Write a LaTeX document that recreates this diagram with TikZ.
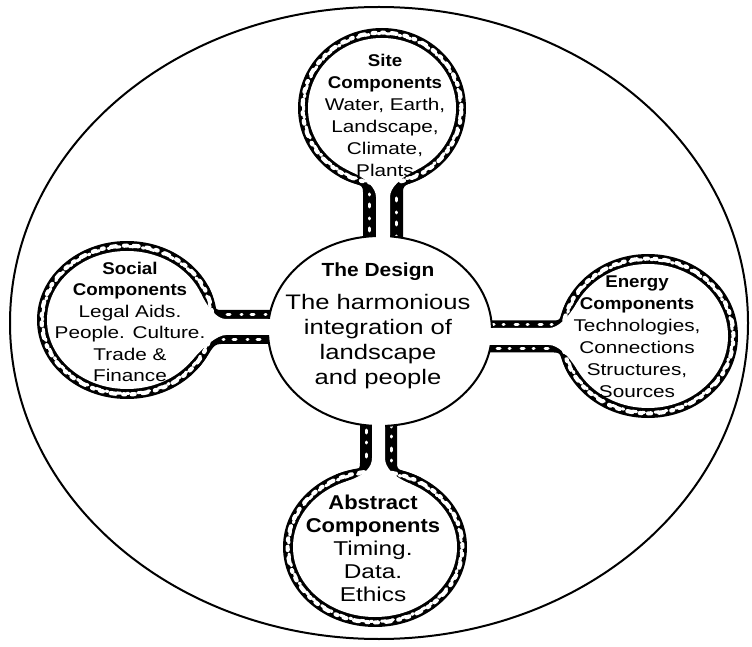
\documentclass[tikz,border=0pt]{standalone}
\usepackage{fontspec}
\newfontfamily\bodyf[FakeStretch=1.22]{Liberation Sans}
\newfontfamily\headf[FakeStretch=1.1]{Liberation Sans}
\newcommand\hd[1]{{\headf\bfseries #1}}
\usetikzlibrary{shapes.geometric}
\tikzset{
 pebble/.style={white, line width=4.2pt, dash pattern=on 3pt off 8pt on 5pt off 7.5pt on 2pt off 6.5pt, line cap=round},
 pebbletwo/.style={white, line width=3pt, dash pattern=on 2pt off 9pt on 4pt off 6pt, dash phase=4pt, line cap=round},
 speck/.style={white, line width=3pt, dash pattern=on 1pt off 9pt on 3pt off 11pt, line cap=round},
 txt/.style={align=center, inner sep=0pt, font=\bodyf\fontsize{17}{22}\selectfont},
 rim/.style={line width=2pt},
}
% #1 cx, #2 cy, #3 rotation, #4 a (across stem), #5 b (along stem), #6 L, #7 w, #8 c, #9 s
\newcommand\Bub[9]{%
\begin{scope}[shift={(#1,#2)},rotate=#3]
 \pgfmathsetmacro\Bpxl{#9-#7-24}
 \pgfmathsetmacro\Bpyl{-#5*sqrt(1-(\Bpxl/#4)^2)}
 \pgfmathsetmacro\Bpxr{#9+#7+24}
 \pgfmathsetmacro\Bpyr{-#5*sqrt(1-(\Bpxr/#4)^2)}
 \pgfmathsetmacro\Btlx{\Bpxl-0.25*#4*\Bpyl/#5}
 \pgfmathsetmacro\Btly{\Bpyl+0.25*#5*\Bpxl/#4}
 \pgfmathsetmacro\Btrx{\Bpxr+0.25*#4*\Bpyr/#5}
 \pgfmathsetmacro\Btry{\Bpyr-0.25*#5*\Bpxr/#4}
 \pgfmathsetmacro\Bma{#4-4.6}\pgfmathsetmacro\Bmb{#5-4.6}
 \pgfmathsetmacro\Bna{#4-5.6}\pgfmathsetmacro\Bnb{#5-5.6}
 \pgfmathsetmacro\Bia{#4-10}\pgfmathsetmacro\Bib{#5-10}
 \pgfmathsetmacro\Bqxl{#9-#8-26}
 \pgfmathsetmacro\Bqyl{-\Bib*sqrt(1-(\Bqxl/\Bia)^2)}
 \pgfmathsetmacro\Bqxr{#9+#8+26}
 \pgfmathsetmacro\Bqyr{-\Bib*sqrt(1-(\Bqxr/\Bia)^2)}
 \pgfmathsetmacro\Bulx{\Bqxl-0.25*\Bia*\Bqyl/\Bib}
 \pgfmathsetmacro\Buly{\Bqyl+0.25*\Bib*\Bqxl/\Bia}
 \pgfmathsetmacro\Burx{\Bqxr+0.25*\Bia*\Bqyr/\Bib}
 \pgfmathsetmacro\Bury{\Bqyr-0.25*\Bib*\Bqxr/\Bia}
 \pgfmathsetmacro\Bwl{#9-#7}\pgfmathsetmacro\Bwr{#9+#7}
 \pgfmathsetmacro\Bcl{#9-#8}\pgfmathsetmacro\Bcr{#9+#8}
 \pgfmathsetmacro\Bsl{#9-(#7+#8)/2}\pgfmathsetmacro\Bsr{#9+(#7+#8)/2}
 \pgfmathsetmacro\BL{-#6-6}
 \pgfmathsetmacro\Bbot{-#5-4}\pgfmathsetmacro\Bbc{-#5+6}
 \pgfmathsetmacro\Bibot{-#5-9}\pgfmathsetmacro\Bibc{-#5}
 \pgfmathsetmacro\Bsp{-#5-6}
 \fill (0,0) ellipse [x radius=#4, y radius=#5];
 \fill (\Bwl,\BL) -- (\Bwl,\Bbot) .. controls (\Bwl,\Bbc) and (\Btlx,\Btly) .. (\Bpxl,\Bpyl) -- (0,0) -- (\Bpxr,\Bpyr) .. controls (\Btrx,\Btry) and (\Bwr,\Bbc) .. (\Bwr,\Bbot) -- (\Bwr,\BL) -- cycle;
 \draw[pebble] (0,0) ellipse [x radius=\Bma, y radius=\Bmb];
 \draw[pebbletwo] (0,0) ellipse [x radius=\Bna, y radius=\Bnb];
 \draw[speck] (\Bsl,\Bsp) -- (\Bsl,\BL);
 \draw[speck, dash phase=6pt] (\Bsr,\Bsp) -- (\Bsr,\BL);
 \fill[white] (0,0) ellipse [x radius=\Bia, y radius=\Bib];
 \fill[white] (\Bcl,\BL) -- (\Bcl,\Bibot) .. controls (\Bcl,\Bibc) and (\Bulx,\Buly) .. (\Bqxl,\Bqyl) -- (0,0) -- (\Bqxr,\Bqyr) .. controls (\Burx,\Bury) and (\Bcr,\Bibc) .. (\Bcr,\Bibot) -- (\Bcr,\BL) -- cycle;
\end{scope}}
% #1 cx, #2 cy, #3 rotation, #4 L, #5 c, #6 s
\newcommand\Mouth[6]{%
\begin{scope}[shift={(#1,#2)},rotate=#3]
 \pgfmathsetmacro\Mlo{#6-#5}\pgfmathsetmacro\Mhi{#6+#5}
 \pgfmathsetmacro\Ma{-#4-7}\pgfmathsetmacro\Mb{-#4+4}
 \fill[white] (\Mlo,\Ma) rectangle (\Mhi,\Mb);
\end{scope}}
\begin{document}
\begin{tikzpicture}[x=1pt,y=1pt]
\useasboundingbox (0,0) rectangle (752,646);
\fill[white] (0,0) rectangle (752,646);
\draw[rim] (379,323) ellipse [x radius=369, y radius=316];
% bubbles with stems
\Bub{382}{538}{0}{84}{80}{128}{20}{7}{1}
\Bub{127}{326}{90}{79}{90}{141}{17}{8}{-7}
\Bub{648}{310}{-90}{82}{90}{156}{16}{8.5}{0.5}
\Bub{375}{99}{180}{92}{80}{121}{18.5}{6.5}{-3.5}
% centre
\node[ellipse, draw, rim, fill=white, minimum width=224pt, minimum height=190pt, inner sep=0pt] (core) at (380,315) {};
\Mouth{382}{538}{0}{128}{7}{1}
\Mouth{127}{326}{90}{141}{8}{-7}
\Mouth{648}{310}{-90}{156}{8.5}{0.5}
\Mouth{375}{99}{180}{121}{6.5}{-3.5}
% texts
\node[txt] (site) at (385,531) {\hd{Site}\\\hd{Components}\\Water, Earth,\\Landscape,\\Climate,\\Plants};
\node[txt, font=\bodyf\fontsize{17}{21.5}\selectfont] (social) at (130,324) {\hd{Social}\\\hd{Components}\\Legal Aids.\\People. Culture.\\Trade \&\\Finance};
\node[txt] (energy) at (637,309) {\hd{Energy}\\\hd{Components}\\Technologies,\\Connections\\Structures,\\Sources};
\node[txt, font=\bodyf\fontsize{20}{23}\selectfont] (abstract) at (373,98) {\hd{Abstract}\\\hd{Components}\\Timing.\\Data.\\Ethics};
\node[txt, font=\bodyf\fontsize{21}{25}\selectfont] (design) at (378,320) {\hd{\fontsize{19}{25}\selectfont The Design}\\[8pt]The harmonious\\integration of\\landscape\\and people};
\end{tikzpicture}
\end{document}
